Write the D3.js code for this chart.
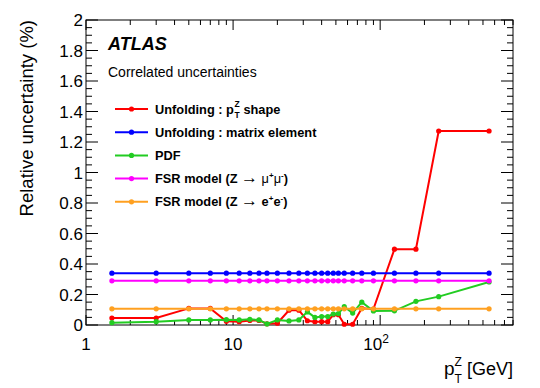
<!DOCTYPE html>
<html lang="en">
<head>
    <meta charset="UTF-8">
    <script src="https://d3js.org/d3.v7.min.js"></script>
    <title>Correlated uncertainties</title>
    <style>
        body { margin: 0; background: #fff; }
        svg { font-family: "Liberation Sans", Arial, sans-serif; }
    </style>
</head>
<body>
    <div id="chart"></div>
    <script>
        // pT(Z) bin centres [GeV]
        const ptValues = [1.5, 3, 5, 7, 9, 11, 13, 15, 17, 20, 24, 28, 32, 36, 40, 44, 48, 52, 57, 65, 75, 90, 125, 175, 250, 550];

        // Relative uncertainties (%)
        const unfoldShape = [0.046, 0.046, 0.109, 0.109, 0.024, 0.022, 0.03, 0.03, 0.008, 0.012, 0.097, 0.097, 0.028, 0.022, 0.022, 0.022, 0.068, 0.068, 0.005, 0.005, 0.11, 0.105, 0.497, 0.497, 1.272, 1.272];
        const unfoldMatrix = [0.34, 0.34, 0.34, 0.34, 0.34, 0.34, 0.34, 0.34, 0.34, 0.34, 0.34, 0.34, 0.34, 0.34, 0.34, 0.34, 0.34, 0.34, 0.34, 0.34, 0.34, 0.34, 0.34, 0.34, 0.34, 0.34];
        const pdf = [0.015, 0.022, 0.033, 0.033, 0.035, 0.033, 0.037, 0.033, 0.007, 0.033, 0.027, 0.033, 0.086, 0.05, 0.055, 0.055, 0.072, 0.075, 0.12, 0.078, 0.15, 0.092, 0.093, 0.155, 0.186, 0.282];
        const fsrMuMu = [0.29, 0.29, 0.29, 0.29, 0.29, 0.29, 0.29, 0.29, 0.29, 0.29, 0.29, 0.29, 0.29, 0.29, 0.29, 0.29, 0.29, 0.29, 0.29, 0.29, 0.29, 0.29, 0.29, 0.29, 0.29, 0.29];
        const fsrEE = [0.106, 0.106, 0.106, 0.106, 0.106, 0.106, 0.106, 0.106, 0.106, 0.106, 0.106, 0.106, 0.106, 0.106, 0.106, 0.106, 0.106, 0.106, 0.106, 0.106, 0.106, 0.106, 0.106, 0.106, 0.106, 0.106];

        const seriesColors = ["#ff0000", "#0000ff", "#22cc22", "#ff00ff", "#ffa020"];
        const yTickValues = [0, 0.2, 0.4, 0.6, 0.8, 1, 1.2, 1.4, 1.6, 1.8, 2];

        const series = [unfoldShape, unfoldMatrix, pdf, fsrMuMu, fsrEE];

        const width = 540, height = 388;
        const plotL = 86, plotR = 513, plotT = 20, plotB = 325;

        const svg = d3.select("#chart").append("svg")
            .attr("width", width)
            .attr("height", height);

        const x = d3.scaleLog().domain([1, 800]).range([plotL, plotR]);
        const y = d3.scaleLinear().domain([0, 2]).range([plotB, plotT]);

        // Frame
        svg.append("rect")
            .attr("x", plotL).attr("y", plotT)
            .attr("width", plotR - plotL).attr("height", plotB - plotT)
            .attr("fill", "none").attr("stroke", "#000").attr("stroke-width", 1);

        // Y ticks (major 0.2, minor 0.05) on both sides
        const yMinor = d3.range(0, 2.0001, 0.05);
        yMinor.forEach(v => {
            const isMajor = Math.abs(v / 0.2 - Math.round(v / 0.2)) < 1e-6;
            const len = isMajor ? 12 : 6;
            svg.append("line").attr("x1", plotL).attr("x2", plotL + len)
                .attr("y1", y(v)).attr("y2", y(v)).attr("stroke", "#000");
            svg.append("line").attr("x1", plotR).attr("x2", plotR - len)
                .attr("y1", y(v)).attr("y2", y(v)).attr("stroke", "#000");
        });
        svg.selectAll(".ylab").data(yTickValues).enter().append("text")
            .attr("x", plotL - 3)
            .attr("y", d => y(d) + 6)
            .attr("text-anchor", "end")
            .style("font-size", "17px")
            .text(d => d3.format("~g")(d));

        // X ticks (log) on top and bottom
        const xMinor = [];
        [1, 10, 100].forEach(dec => {
            for (let k = 1; k <= 9; k++) {
                const v = dec * k;
                if (v <= 800) xMinor.push(v);
            }
        });
        xMinor.forEach(v => {
            const isMajor = [1, 10, 100].includes(v);
            const len = isMajor ? 10 : 5;
            svg.append("line").attr("x1", x(v)).attr("x2", x(v))
                .attr("y1", plotB).attr("y2", plotB - len).attr("stroke", "#000");
            svg.append("line").attr("x1", x(v)).attr("x2", x(v))
                .attr("y1", plotT).attr("y2", plotT + len).attr("stroke", "#000");
        });
        svg.append("text").attr("x", x(1)).attr("y", 350)
            .attr("text-anchor", "middle").style("font-size", "17px").text("1");
        svg.append("text").attr("x", x(10)).attr("y", 350)
            .attr("text-anchor", "middle").style("font-size", "17px").text("10");
        const t100 = svg.append("text").attr("x", x(100) - 4).attr("y", 350)
            .attr("text-anchor", "middle").style("font-size", "17px");
        t100.append("tspan").text("10");
        t100.append("tspan").attr("dy", -7).style("font-size", "12px").text("2");

        // Axis titles
        svg.append("text")
            .attr("transform", "translate(33,20) rotate(-90)")
            .attr("text-anchor", "end")
            .style("font-size", "18.5px")
            .text("Relative uncertainty (%)");

        const gev = svg.append("text").attr("x", plotR).attr("y", 375)
            .attr("text-anchor", "end").style("font-size", "18px").text("[GeV]");
        const gevW = gev.node().getComputedTextLength();
        const pX = plotR - gevW - 23;
        svg.append("text").attr("x", pX).attr("y", 375).style("font-size", "19px").text("p");
        svg.append("text").attr("x", pX + 10.5).attr("y", 366).style("font-size", "12px").text("Z");
        svg.append("text").attr("x", pX + 10.5).attr("y", 383).style("font-size", "12px").text("T");

        // Series lines and markers
        const line = d3.line().x((d, i) => x(ptValues[i])).y(d => y(d));
        series.forEach((vals, s) => {
            svg.append("path").datum(vals)
                .attr("d", line)
                .attr("fill", "none")
                .attr("stroke", seriesColors[s])
                .attr("stroke-width", 2);
            svg.selectAll(".pt" + s).data(vals).enter().append("circle")
                .attr("cx", (d, i) => x(ptValues[i]))
                .attr("cy", d => y(d))
                .attr("r", 2.6)
                .attr("fill", seriesColors[s]);
        });

        // ATLAS label
        svg.append("text").attr("x", 108).attr("y", 50)
            .style("font-size", "18px").style("font-weight", "bold").style("font-style", "italic")
            .text("ATLAS");
        svg.append("text").attr("x", 108).attr("y", 77)
            .style("font-size", "14px").text("Correlated uncertainties");

        // Legend
        const legendY = d => 109 + d * 23.2;
        series.forEach((vals, s) => {
            svg.append("line").attr("x1", 115).attr("x2", 148)
                .attr("y1", legendY(s)).attr("y2", legendY(s))
                .attr("stroke", seriesColors[s]).attr("stroke-width", 2);
            svg.append("circle").attr("cx", 131.5).attr("cy", legendY(s)).attr("r", 2.6)
                .attr("fill", seriesColors[s]);
        });
        const legendFont = "12.8px";
        const lt = (i) => svg.append("text").attr("x", 155).attr("y", legendY(i) + 4.5)
            .style("font-size", legendFont).style("font-weight", "bold");

        const l0 = lt(0);
        l0.append("tspan").text("Unfolding : p");
        const l0w = l0.node().getComputedTextLength();
        svg.append("text").attr("x", 155 + l0w + 0.5).attr("y", legendY(0) - 2)
            .style("font-size", "8.5px").style("font-weight", "bold").text("Z");
        svg.append("text").attr("x", 155 + l0w + 0.5).attr("y", legendY(0) + 9)
            .style("font-size", "8.5px").style("font-weight", "bold").text("T");
        svg.append("text").attr("x", 155 + l0w + 9.5).attr("y", legendY(0) + 4.5)
            .style("font-size", legendFont).style("font-weight", "bold").text("shape");

        lt(1).text("Unfolding : matrix element");
        lt(2).text("PDF");

        const l3 = lt(3);
        l3.append("tspan").text("FSR model (Z ");
        l3.append("tspan").style("font-weight", "normal").style("font-size", "17px").text("\u2192");
        l3.append("tspan").style("font-weight", "normal").text(" \u03bc");
        l3.append("tspan").attr("dy", -5).style("font-size", "8px").text("+");
        l3.append("tspan").attr("dy", 5).style("font-weight", "normal").text("\u03bc");
        l3.append("tspan").attr("dy", -5).style("font-size", "8px").text("-");
        l3.append("tspan").attr("dy", 5).text(")");

        const l4 = lt(4);
        l4.append("tspan").text("FSR model (Z ");
        l4.append("tspan").style("font-weight", "normal").style("font-size", "17px").text("\u2192");
        l4.append("tspan").style("font-weight", "normal").text(" ");
        l4.append("tspan").text("e");
        l4.append("tspan").attr("dy", -5).style("font-size", "8px").text("+");
        l4.append("tspan").attr("dy", 5).text("e");
        l4.append("tspan").attr("dy", -5).style("font-size", "8px").text("-");
        l4.append("tspan").attr("dy", 5).text(")");
    </script>
</body>
</html>
